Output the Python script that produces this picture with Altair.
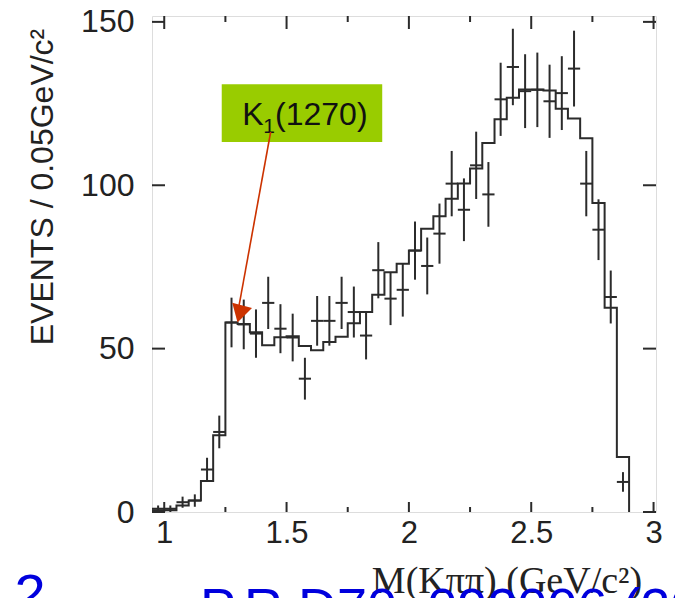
import altair as alt
import pandas as pd

# Histogram bins (0.05 GeV wide): left edges and fitted (MC) heights
bin_lo = [0.95, 1.00, 1.05, 1.10, 1.15, 1.20, 1.25, 1.30, 1.35, 1.40,
          1.45, 1.50, 1.55, 1.60, 1.65, 1.70, 1.75, 1.80, 1.85, 1.90,
          1.95, 2.00, 2.05, 2.10, 2.15, 2.20, 2.25, 2.30, 2.35, 2.40,
          2.45, 2.50, 2.55, 2.60, 2.65, 2.70, 2.75, 2.80, 2.85]
bin_hi = 2.90
fit_counts = [0.5, 0.5, 2.0, 3.5, 9.5, 23.5, 58.0, 57.5, 55.0, 51.0,
              53.5, 53.8, 50.8, 49.5, 52.0, 53.6, 57.8, 61.2, 66.5, 73.4,
              76.0, 80.0, 86.7, 90.5, 95.9, 100.5, 105.1, 112.9, 120.2, 126.8,
              129.3, 129.3, 129.0, 123.4, 120.4, 114.4, 94.6, 62.5, 16.8]

# Measured events per bin with their errors
centers = [0.975, 1.025, 1.075, 1.125, 1.175, 1.225, 1.275, 1.325, 1.375, 1.425,
           1.475, 1.525, 1.575, 1.625, 1.675, 1.725, 1.775, 1.825, 1.875, 1.925,
           1.975, 2.025, 2.075, 2.125, 2.175, 2.225, 2.275, 2.325, 2.375, 2.425,
           2.475, 2.525, 2.575, 2.625, 2.675, 2.725, 2.775, 2.825, 2.875]
events = [1.0, 1.0, 3.0, 3.5, 13.0, 24.5, 58.0, 57.4, 54.6, 64.0,
          56.1, 53.4, 40.8, 58.5, 58.5, 64.0, 61.2, 54.0, 74.0, 65.3,
          68.0, 80.0, 75.3, 85.2, 100.5, 92.5, 106.1, 97.2, 126.3, 136.2,
          128.8, 129.2, 125.7, 128.2, 135.7, 100.5, 86.4, 65.8, 9.2]
errors = [1.0, 1.0, 1.7, 1.9, 3.6, 5.0, 7.6, 7.6, 7.4, 8.0,
          7.5, 7.3, 6.4, 7.6, 7.6, 8.0, 7.8, 7.3, 8.6, 8.1,
          8.2, 8.9, 8.7, 9.2, 10.0, 9.6, 10.3, 9.9, 11.2, 11.7,
          11.3, 11.4, 11.2, 11.3, 11.6, 10.0, 9.3, 8.1, 3.0]
half_bin = 0.025

x_major = [1.0, 1.5, 2.0, 2.5, 3.0]
x_minor = [1.25, 1.75, 2.25, 2.75]
y_major = [0, 50, 100, 150]

W, H = 504, 496
X_DOMAIN = [0.95, 3.01]
Y_DOMAIN = [0, 151.8]
INK = "#2b2b2b"
SANS = "Liberation Sans"

xs = alt.Scale(domain=X_DOMAIN, nice=False, zero=False)
ys = alt.Scale(domain=Y_DOMAIN, nice=False, zero=False)

step_df = pd.DataFrame({"m": bin_lo + [bin_hi], "n": fit_counts + [0.0]})
pts = pd.DataFrame({"m": centers, "n": events, "e": errors})
pts["lo"] = pts["n"] - pts["e"]
pts["hi"] = pts["n"] + pts["e"]
pts["left"] = pts["m"] - half_bin
pts["right"] = pts["m"] + half_bin

x_axis = alt.Axis(values=x_major, title=None, ticks=False, domain=False, grid=False,
                  labelExpr="toString(datum.value)", labelFont=SANS, labelFontSize=31,
                  labelColor="#222", labelPadding=6, labelFlush=False)
y_axis = alt.Axis(values=y_major, title=None, ticks=False, domain=False, grid=False,
                  labelFont=SANS, labelFontSize=32, labelColor="#222", labelPadding=18)

hist = alt.Chart(step_df).mark_line(interpolate="step-after", color=INK, strokeWidth=2).encode(
    x=alt.X("m:Q", scale=xs, axis=x_axis),
    y=alt.Y("n:Q", scale=ys, axis=y_axis),
)

vbars = alt.Chart(pts).mark_rule(color=INK, strokeWidth=2).encode(
    x=alt.X("m:Q", scale=xs), y=alt.Y("lo:Q", scale=ys), y2="hi:Q")
hbars = alt.Chart(pts).mark_rule(color=INK, strokeWidth=2).encode(
    x=alt.X("left:Q", scale=xs), x2="right:Q", y=alt.Y("n:Q", scale=ys))

# Inward ticks on all four sides of the frame
xmaj = pd.DataFrame({"v": x_major})
xmin = pd.DataFrame({"v": x_minor})
ymaj = pd.DataFrame({"v": y_major})
tick = dict(color=INK, strokeWidth=2)
ticks = [
    alt.Chart(xmaj).mark_rule(**tick).encode(x=alt.X("v:Q", scale=xs), y=alt.value(H), y2=alt.value(H - 10)),
    alt.Chart(xmin).mark_rule(**tick).encode(x=alt.X("v:Q", scale=xs), y=alt.value(H), y2=alt.value(H - 5)),
    alt.Chart(xmaj).mark_rule(**tick).encode(x=alt.X("v:Q", scale=xs), y=alt.value(0), y2=alt.value(13)),
    alt.Chart(xmin).mark_rule(**tick).encode(x=alt.X("v:Q", scale=xs), y=alt.value(0), y2=alt.value(6)),
    alt.Chart(ymaj).mark_rule(**tick).encode(y=alt.Y("v:Q", scale=ys), x=alt.value(0), x2=alt.value(13)),
    alt.Chart(ymaj).mark_rule(**tick).encode(y=alt.Y("v:Q", scale=ys), x=alt.value(W), x2=alt.value(W - 13)),
]

# K1(1270) label box with arrow to the peak
box = pd.DataFrame({"x0": [1.235], "x1": [1.891], "y0": [113.2], "y1": [130.9]})
label_box = alt.Chart(box).mark_rect(color="#99CC00").encode(
    x=alt.X("x0:Q", scale=xs), x2="x1:Q", y=alt.Y("y0:Q", scale=ys), y2="y1:Q")

lab = pd.DataFrame({"t": ["K", "1", "(1270)"], "m": [1.319, 1.405, 1.453],
                    "n": [118.3, 116.0, 118.3], "s": [32, 21, 32]})
label_text = alt.Chart(lab).mark_text(align="left", baseline="alphabetic", font=SANS, color="#111").encode(
    x=alt.X("m:Q", scale=xs), y=alt.Y("n:Q", scale=ys), text="t:N",
    size=alt.Size("s:Q", scale=None, legend=None))

arrow_df = pd.DataFrame({"m": [1.435, 1.303], "n": [116.3, 62.0], "o": [0, 1]})
arrow_line = alt.Chart(arrow_df).mark_line(color="#CC3300", strokeWidth=1.6).encode(
    x=alt.X("m:Q", scale=xs), y=alt.Y("n:Q", scale=ys), order="o:Q")
head = pd.DataFrame({"m": [1.309], "n": [60.6]})
arrow_head = alt.Chart(head).mark_point(shape="triangle-down", filled=True, color="#CC3300",
                                        size=420, angle=15, opacity=1).encode(
    x=alt.X("m:Q", scale=xs), y=alt.Y("n:Q", scale=ys))

# Axis titles and footer text
y_title = alt.Chart(pd.DataFrame({"t": ["EVENTS / 0.05GeV/c\u00b2"]})).mark_text(
    angle=270, align="center", baseline="middle", font=SANS, fontSize=32, color="#222").encode(
    x=alt.value(-109), y=alt.value(171), text="t:N")
x_title = alt.Chart(pd.DataFrame({"t": ["M(K\u03c0\u03c0) (GeV/c\u00b2)"]})).mark_text(
    align="center", baseline="alphabetic", font="Liberation Serif", fontSize=38, color="#222").encode(
    x=alt.value(355), y=alt.value(577), text="t:N")
page_no = alt.Chart(pd.DataFrame({"t": ["2"]})).mark_text(
    align="center", baseline="alphabetic", font=SANS, fontSize=56, color="#0000DD").encode(
    x=alt.value(-122), y=alt.value(597), text="t:N")
ref = alt.Chart(pd.DataFrame({"t": ["P.R.D70, 092006 (2005)"]})).mark_text(
    align="left", baseline="alphabetic", font=SANS, fontSize=54, color="#0000DD").encode(
    x=alt.value(48), y=alt.value(610), text="t:N")

chart = alt.layer(
    hist, vbars, hbars, *ticks, label_box, label_text, arrow_line, arrow_head,
    y_title, x_title, page_no, ref,
).properties(
    width=W, height=H,
    autosize=alt.AutoSizeParams(type="none"),
    padding={"left": 152, "top": 16, "right": 19, "bottom": 86},
).configure_view(
    stroke=INK, strokeWidth=2,
).configure(background="white")

chart.save("out.html", embed_options={"renderer": "svg", "actions": False})
